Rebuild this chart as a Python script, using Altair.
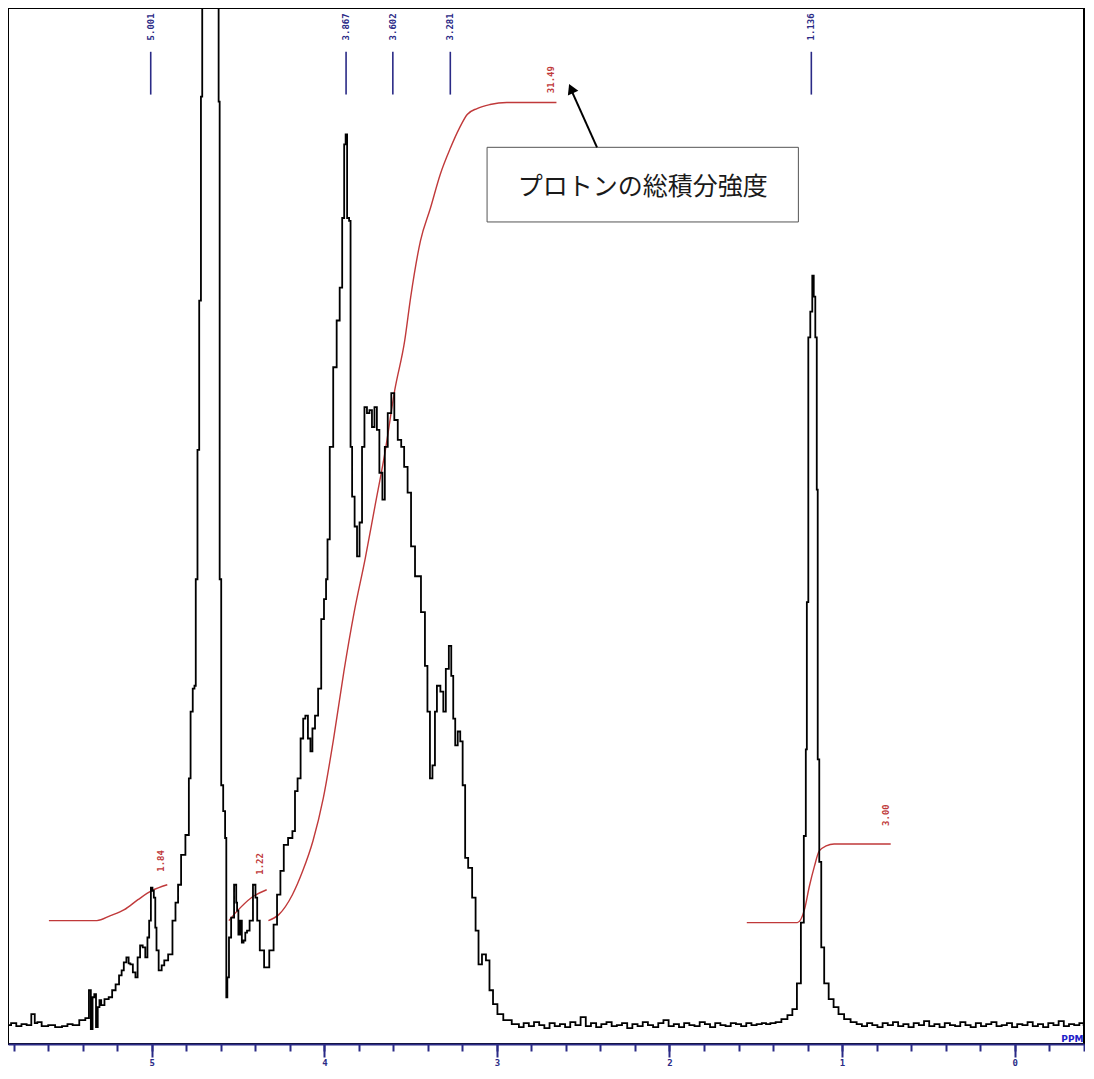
import altair as alt
import pandas as pd

# ---------------- data ----------------
# 1H NMR spectrum: (chemical shift ppm, intensity in arbitrary units, baseline = 0)
spectrum_left = [
    (5.83, 0), (5.80, 2), (5.77, -1), (5.74, 1), (5.71, 0), (5.686, 11), (5.67, 2),
    (5.656, 3), (5.62, -1), (5.58, 0), (5.54, -2), (5.50, -1), (5.477, 1), (5.44, 0),
    (5.40, 5), (5.37, 7),
]
spectrum_main = [
    (5.358, 35), (5.348, -4), (5.338, 28), (5.328, 31), (5.318, -2), (5.308, 18),
    (5.298, 25), (5.288, 20), (5.26, 26), (5.239, 28), (5.22, 35), (5.199, 41),
    (5.18, 50), (5.169, 55), (5.155, 63), (5.139, 68), (5.129, 62), (5.119, 61),
    (5.10, 53), (5.089, 48), (5.075, 68), (5.06, 80), (5.045, 78), (5.03, 68),
    (5.02, 88), (5.01, 105), (5.0, 138), (4.992, 135), (4.984, 128), (4.975, 98),
    (4.97, 75), (4.95, 55), (4.935, 60), (4.92, 65), (4.89, 71), (4.87, 105),
    (4.855, 123), (4.84, 141), (4.82, 171), (4.79, 191), (4.78, 248), (4.77, 315),
    (4.755, 338), (4.75, 341), (4.74, 448), (4.73, 578), (4.72, 728), (4.71, 933),
    (4.705, 1100), (4.66, 1400), (4.615, 1100), (4.61, 928), (4.603, 448),
    (4.592, 241), (4.58, 215), (4.57, 188), (4.566, 28), (4.558, 48), (4.547, 88),
    (4.533, 108), (4.513, 141), (4.508, 123), (4.503, 115), (4.493, 91), (4.483, 105),
    (4.473, 83), (4.463, 85), (4.453, 93), (4.443, 95), (4.423, 105), (4.404, 141),
    (4.394, 128), (4.384, 105), (4.364, 75), (4.334, 58), (4.304, 75), (4.284, 101),
    (4.264, 131), (4.245, 155), (4.225, 181), (4.195, 188), (4.175, 195), (4.165, 235),
    (4.145, 248), (4.13, 288), (4.115, 308), (4.105, 311), (4.085, 288), (4.076, 275),
    (4.062, 298), (4.046, 311), (4.026, 338), (4.01, 408), (3.994, 428), (3.986, 448),
    (3.977, 488), (3.960, 581), (3.937, 661), (3.920, 708), (3.902, 741), (3.891, 811),
    (3.879, 885), (3.874, 895), (3.862, 811), (3.851, 808), (3.845, 581), (3.833, 531),
    (3.816, 501), (3.805, 471), (3.787, 505), (3.776, 581), (3.759, 621), (3.747, 615),
    (3.730, 618), (3.718, 601), (3.701, 621), (3.690, 598), (3.672, 555), (3.655, 528),
    (3.644, 581), (3.621, 615), (3.603, 635), (3.586, 608), (3.563, 588), (3.546, 581),
    (3.529, 561), (3.506, 535), (3.489, 481), (3.460, 451), (3.420, 415), (3.414, 361),
    (3.391, 315), (3.385, 248), (3.362, 261), (3.356, 315), (3.339, 341), (3.316, 335),
    (3.305, 315), (3.287, 358), (3.270, 381), (3.259, 351), (3.247, 308), (3.236, 281),
    (3.218, 295), (3.207, 285), (3.190, 241), (3.178, 168), (3.155, 158), (3.132, 128),
    (3.115, 95), (3.098, 61), (3.075, 71), (3.052, 65), (3.034, 35), (3.011, 21),
    (2.983, 11), (2.943, 5), (2.885, 1),
]
spectrum_mid_baseline = [
    (2.86, -2), (2.83, 2), (2.80, -1), (2.77, 3), (2.74, 0), (2.71, -3), (2.68, 2),
    (2.65, -1), (2.62, 1), (2.59, -2), (2.56, 3), (2.53, 0), (2.50, 8), (2.47, -1),
    (2.44, 2), (2.41, -2), (2.38, 1), (2.35, 3), (2.32, -1), (2.29, 0), (2.26, 2),
    (2.23, -3), (2.20, 1), (2.17, -1), (2.14, 3), (2.11, 0), (2.08, -2), (2.05, 2),
    (2.02, 5), (1.99, -1), (1.96, 1), (1.93, -2), (1.90, 2), (1.87, 0), (1.84, -1),
    (1.81, 3), (1.78, 1), (1.75, -2), (1.72, 2), (1.69, 0), (1.66, -1), (1.63, 2),
    (1.60, 1), (1.57, -1), (1.54, 2), (1.51, 0), (1.48, 1), (1.45, 2),
]
spectrum_methyl = [
    (1.431, 1), (1.40, 2), (1.37, 3), (1.333, 6), (1.30, 10), (1.276, 16), (1.247, 42),
    (1.230, 103), (1.213, 190), (1.207, 277), (1.201, 425), (1.190, 691), (1.178, 717),
    (1.167, 753), (1.161, 732), (1.149, 691), (1.144, 538), (1.138, 267), (1.126, 164),
    (1.115, 78), (1.092, 42), (1.063, 26), (1.035, 18), (1.006, 11), (0.97, 6),
    (0.931, 3), (0.90, 1), (0.87, -1), (0.84, 2),
]
spectrum_right_baseline = [
    (0.81, 0), (0.78, -2), (0.75, 2), (0.72, 0), (0.69, 3), (0.66, -1), (0.63, 1),
    (0.60, -2), (0.57, 2), (0.54, 0), (0.51, 4), (0.48, -1), (0.45, 1), (0.42, -2),
    (0.39, 2), (0.36, 0), (0.33, -1), (0.30, 3), (0.27, 0), (0.24, -2), (0.21, 2),
    (0.18, -1), (0.15, 1), (0.12, 3), (0.09, -1), (0.06, 0), (0.03, 2), (0.00, -2),
    (-0.03, 1), (-0.06, 0), (-0.09, 3), (-0.12, -1), (-0.15, 1), (-0.18, -2),
    (-0.21, 2), (-0.24, 0), (-0.27, 4), (-0.30, -1), (-0.33, 1), (-0.36, 0),
    (-0.39, 2), (-0.41, 0),
]

# integral curves (ppm, integral height in the same arbitrary units)
integral_a = [(5.596, 105), (5.318, 105), (5.239, 110), (5.159, 116), (5.08, 126),
              (5.0, 135), (4.91, 141)]
integral_b = [(4.553, 105), (4.503, 115), (4.423, 128), (4.334, 136)]
integral_c = [(4.324, 105), (4.264, 111), (4.185, 131), (4.125, 155), (4.066, 185),
              (4.006, 228), (3.946, 288), (3.887, 355), (3.827, 415), (3.764, 468),
              (3.707, 521), (3.649, 575), (3.592, 638), (3.534, 688), (3.5, 731),
              (3.443, 788), (3.385, 821), (3.328, 855), (3.270, 881), (3.218, 901),
              (3.172, 915), (3.115, 921), (3.040, 925), (2.943, 927), (2.655, 927)]
integral_d = [(1.552, 103), (1.259, 103), (1.218, 116), (1.190, 139), (1.161, 159),
              (1.132, 175), (1.092, 180), (1.046, 182), (0.718, 182)]

integral_labels = ["1.84", "1.22", "31.49", "3.00"]
integral_label_ppm = [4.948, 4.374, 2.684, 0.747]
integral_label_int = [165, 162, 950, 211]

# peak picks
peak_labels = ["5.001", "3.867", "3.602", "3.281", "1.136"]
peak_ppm = [5.006, 3.874, 3.603, 3.270, 1.178]
peak_mark_low, peak_mark_high, peak_label_level = 935, 978, 1003

# axis ticks
major_ticks = [5, 4, 3, 2, 1, 0]
minor_ticks = [5.8, 5.6, 5.4, 5.2, 5.0, 4.8, 4.6, 4.4, 4.2, 4.0, 3.8, 3.6, 3.4, 3.2,
               3.0, 2.8, 2.6, 2.4, 2.2, 2.0, 1.8, 1.6, 1.4, 1.2, 1.0, 0.8, 0.6, 0.4,
               0.2, 0.0, -0.2, -0.4]

# annotation
note_text = "プロトンの総積分強度"
note_box = {"x": 3.057, "x2": 1.253, "y": 807, "y2": 882}
note_text_pos = {"ppm": 2.155, "val": 842}
arrow = {"x": 2.420, "y": 882, "x2": 2.565, "y2": 938}
arrow_head = {"ppm": 2.570, "val": 941}

# ---------------- build the chart ----------------
spec_df = pd.DataFrame(
    spectrum_left + spectrum_main + spectrum_mid_baseline + spectrum_methyl
    + spectrum_right_baseline, columns=["ppm", "val"])

rows = []
for name, seg in [("a", integral_a), ("b", integral_b), ("c", integral_c), ("d", integral_d)]:
    for i, (p, v) in enumerate(seg):
        rows.append({"seg": name, "ppm": p, "val": v, "order": i})
int_df = pd.DataFrame(rows)

int_lab_df = pd.DataFrame({"ppm": integral_label_ppm, "val": integral_label_int,
                           "label": integral_labels})
peak_df = pd.DataFrame({"ppm": peak_ppm, "label": peak_labels,
                        "lo": [peak_mark_low] * len(peak_ppm),
                        "hi": [peak_mark_high] * len(peak_ppm),
                        "lab": [peak_label_level] * len(peak_ppm)})

NAVY = "#2a2a86"
RED = "#c0393a"

xs = alt.Scale(domain=[5.833, -0.402], nice=False, zero=False)
ys = alt.Scale(domain=[-19, 1022], nice=False, zero=False)

major_axis = alt.Axis(values=major_ticks, orient="bottom", format="d", tickSize=13,
                      tickWidth=2, tickColor=NAVY, domainColor=NAVY, domainWidth=2,
                      labelColor=NAVY, labelFont="DejaVu Sans Mono", labelFontSize=9,
                      labelFontWeight="bold", labelPadding=1, grid=False,
                      title="PPM", titleColor="#2020c8", titleFont="DejaVu Sans",
                      titleFontSize=9, titleFontWeight="bold", titleAnchor="start",
                      titleAlign="right", titleBaseline="bottom", titleAngle=0,
                      titleX=1075, titleY=-1, zindex=2)
minor_axis = alt.Axis(values=minor_ticks, orient="bottom", tickSize=7, tickWidth=2,
                      tickColor=NAVY, domain=False, labels=False, grid=False,
                      title="", zindex=2)

spectrum = alt.Chart(spec_df).mark_line(
    color="black", strokeWidth=1.8, interpolate="step", clip=True
).encode(
    x=alt.X("ppm:Q", scale=xs, axis=major_axis),
    y=alt.Y("val:Q", scale=ys, axis=None),
)

integrals = alt.Chart(int_df).mark_line(
    color=RED, strokeWidth=1.4, clip=True, interpolate="monotone"
).encode(
    x=alt.X("ppm:Q", scale=xs, axis=minor_axis),
    y=alt.Y("val:Q", scale=ys, axis=None),
    detail="seg:N",
    order="order:Q",
)

int_labels = alt.Chart(int_lab_df).mark_text(
    color=RED, angle=270, font="DejaVu Sans Mono", fontSize=9, fontWeight="bold",
    align="center", baseline="middle"
).encode(
    x=alt.X("ppm:Q", scale=xs, axis=None),
    y=alt.Y("val:Q", scale=ys, axis=None),
    text="label:N",
)

peak_rules = alt.Chart(peak_df).mark_rule(color=NAVY, strokeWidth=1.6).encode(
    x=alt.X("ppm:Q", scale=xs, axis=None),
    y=alt.Y("lo:Q", scale=ys, axis=None),
    y2="hi:Q",
)

peak_text = alt.Chart(peak_df).mark_text(
    color=NAVY, angle=270, font="DejaVu Sans Mono", fontSize=9, fontWeight="bold",
    align="center", baseline="middle"
).encode(
    x=alt.X("ppm:Q", scale=xs, axis=None),
    y=alt.Y("lab:Q", scale=ys, axis=None),
    text="label:N",
)

box = alt.Chart(pd.DataFrame([note_box])).mark_rect(
    fill="white", stroke="#555555", strokeWidth=1
).encode(
    x=alt.X("x:Q", scale=xs, axis=None), x2="x2:Q",
    y=alt.Y("y:Q", scale=ys, axis=None), y2="y2:Q",
)

box_text = alt.Chart(pd.DataFrame([{**note_text_pos, "t": note_text}])).mark_text(
    font="Noto Sans CJK JP", fontSize=25, color="#1a1a1a", align="center",
    baseline="middle"
).encode(
    x=alt.X("ppm:Q", scale=xs, axis=None),
    y=alt.Y("val:Q", scale=ys, axis=None),
    text="t:N",
)

arrow_line = alt.Chart(pd.DataFrame([arrow])).mark_rule(
    color="black", strokeWidth=2
).encode(
    x=alt.X("x:Q", scale=xs, axis=None), x2="x2:Q",
    y=alt.Y("y:Q", scale=ys, axis=None), y2="y2:Q",
)

arrow_tip = alt.Chart(pd.DataFrame([arrow_head])).mark_point(
    shape="triangle-up", filled=True, color="black", size=130, angle=336, opacity=1
).encode(
    x=alt.X("ppm:Q", scale=xs, axis=None),
    y=alt.Y("val:Q", scale=ys, axis=None),
)

chart = alt.layer(
    integrals, spectrum, int_labels, peak_rules, peak_text, box, box_text,
    arrow_line, arrow_tip
).resolve_axis(x="independent").properties(
    width=1076, height=1036,
    padding={"left": 0, "top": 0, "right": 0, "bottom": 0},
    background="white",
).configure_view(stroke="black", strokeWidth=2)

chart.save("out.html", embed_options={"renderer": "svg", "actions": False})
